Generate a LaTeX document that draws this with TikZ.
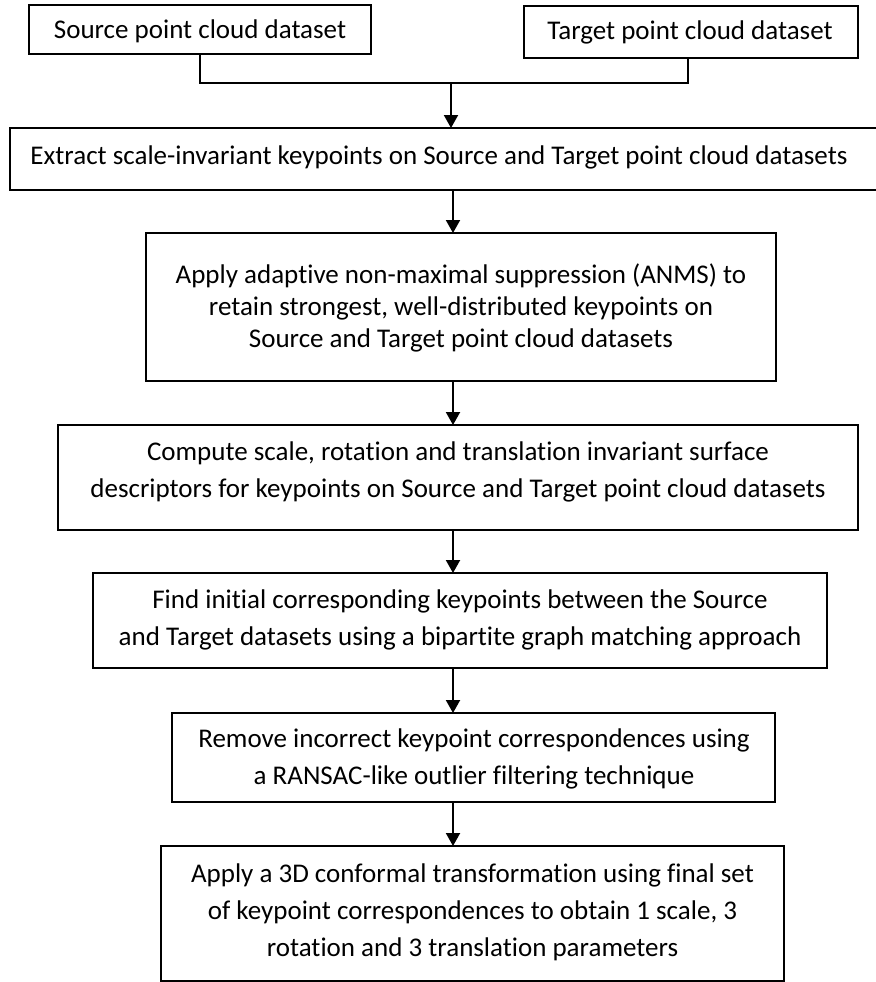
\documentclass[tikz,border=0pt]{standalone}
\usepackage{fontspec}
\setmainfont{Carlito}[Ligatures=NoCommon]
\usetikzlibrary{arrows.meta}
\tikzset{
  flowbox/.style={draw=black, line width=2.2pt, inner sep=0pt, outer sep=0pt},
  flowtext/.style={align=center, inner sep=0pt, font=\fontsize{27}{37}\selectfont},
  tighttext/.style={flowtext, font=\fontsize{27}{32.3}\selectfont},
  link/.style={line width=2pt, line join=miter},
  flowarrow/.style={link, -{Triangle[width=14pt,length=13pt]}},
}
\begin{document}
\begin{tikzpicture}[x=1pt, y=-1pt]
  \useasboundingbox (0,0) rectangle (875,982);
  \fill[white] (0,0) rectangle (875,982);

  % boxes: centre and size taken from their corners
  \node[flowbox, minimum width=342pt, minimum height=49pt] (src)     at (200,29.5)  {};
  \node[flowbox, minimum width=334pt, minimum height=52pt] (tgt)     at (691,32)    {};
  \node[flowbox, minimum width=870pt, minimum height=62pt] (extract) at (445,159)   {};
  \node[flowbox, minimum width=630pt, minimum height=148pt] (anms)   at (461,307)   {};
  \node[flowbox, minimum width=800pt, minimum height=105pt] (comp)   at (458,477.5) {};
  \node[flowbox, minimum width=734pt, minimum height=95pt] (find)    at (460,620.5) {};
  \node[flowbox, minimum width=603pt, minimum height=89pt] (remove)  at (473.5,757.5) {};
  \node[flowbox, minimum width=623pt, minimum height=135pt] (apply)  at (472.5,913.5) {};

  % box texts
  \node[flowtext] (srcT) at (200,31) {Source point cloud dataset};
  \node[flowtext] (tgtT) at (690,32) {Target point cloud dataset};
  \node[flowtext] (extractT) at (439,157) {Extract scale-invariant keypoints on Source and Target point cloud datasets};
  \node[tighttext] (anmsT) at (461,308) {Apply adaptive non-maximal suppression (ANMS) to\\retain strongest, well-distributed keypoints on\\Source and Target point cloud datasets};
  \node[flowtext] (compT) at (458,471.5) {Compute scale, rotation and translation invariant surface\\descriptors for keypoints on Source and Target point cloud datasets};
  \node[flowtext] (findT) at (460,620) {Find initial corresponding keypoints between the Source\\and Target datasets using a bipartite graph matching approach};
  \node[flowtext] (removeT) at (474,758.5) {Remove incorrect keypoint correspondences using\\a RANSAC-like outlier filtering technique};
  \node[flowtext] (applyT) at (472.5,912.5) {Apply a 3D conformal transformation using final set\\of keypoint correspondences to obtain 1 scale, 3\\rotation and 3 translation parameters};

  % connectors
  \coordinate (join) at (451,83);
  \coordinate (spine) at (453,0);
  \draw[link] (src.south) |- (join) -| ([xshift=-3pt]tgt.south);
  \draw[flowarrow] (join) -- (join |- extract.north);
  \draw[flowarrow] (extract.south -| spine) -- (anms.north -| spine);
  \draw[flowarrow] (anms.south -| spine) -- (comp.north -| spine);
  \draw[flowarrow] (comp.south -| spine) -- (find.north -| spine);
  \draw[flowarrow] (find.south -| spine) -- (remove.north -| spine);
  \draw[flowarrow] (remove.south -| spine) -- (apply.north -| spine);
\end{tikzpicture}
\end{document}
